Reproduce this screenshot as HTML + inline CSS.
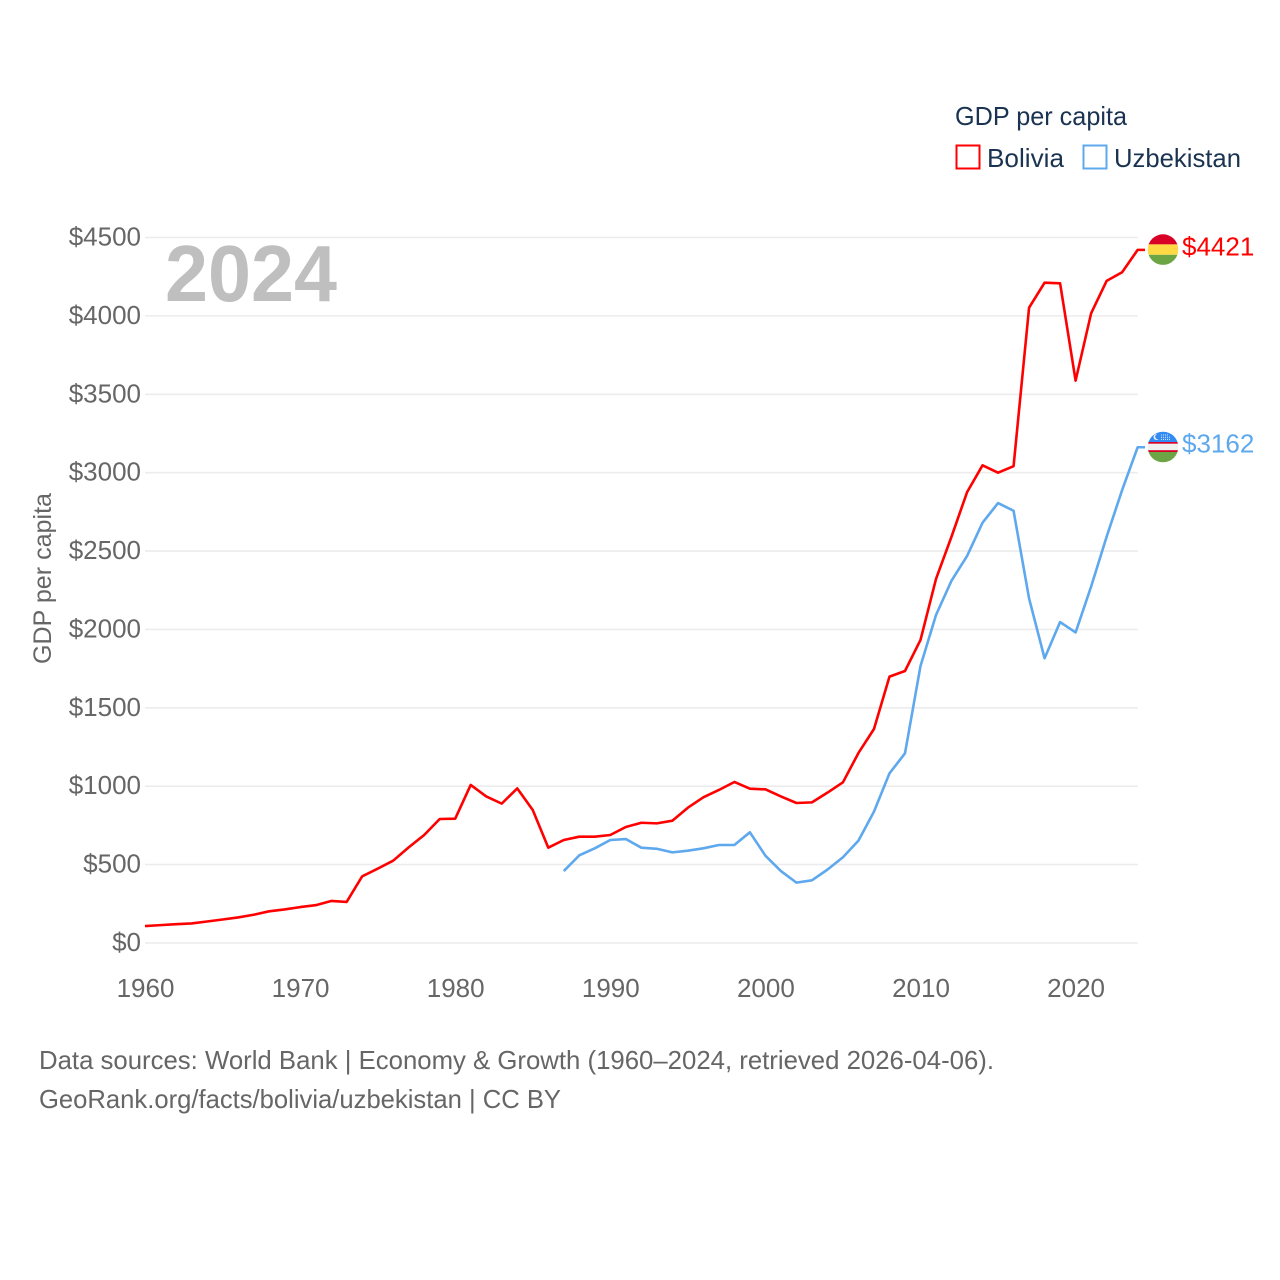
<!DOCTYPE html>
<html lang="en">
<head>
<meta charset="utf-8">
<title>GDP per capita: Bolivia vs Uzbekistan</title>
<style>
html,body{margin:0;padding:0;background:#fff;}
svg{display:block;}
text{font-family:"Liberation Sans",sans-serif;}
</style>
</head>
<body>
<svg id="chart" width="1280" height="1280" viewBox="0 0 1280 1280" xmlns="http://www.w3.org/2000/svg">
  <defs>
    <clipPath id="clip-bo"><circle cx="1163" cy="249.6" r="15.3"/></clipPath>
    <clipPath id="clip-uz"><circle cx="1163" cy="447" r="15.3"/></clipPath>
  </defs>
  <rect width="1280" height="1280" fill="#fff"/>
  <g id="grid"></g>
  <g id="yticks"></g>
  <g id="xticks"></g>
  <text x="165" y="301" font-size="80" font-weight="700" fill="#bfbfbf" textLength="172" lengthAdjust="spacingAndGlyphs">2024</text>
  <text transform="translate(51,664) rotate(-90)" font-size="25" fill="#666" textLength="171" lengthAdjust="spacingAndGlyphs">GDP per capita</text>
  <g id="series"></g>

  <g clip-path="url(#clip-bo)">
    <rect x="1147" y="234" width="32" height="10.4" fill="#d80027"/>
    <rect x="1147" y="244.4" width="32" height="10.4" fill="#ffda44"/>
    <rect x="1147" y="254.8" width="32" height="11" fill="#6da544"/>
  </g>
  <g clip-path="url(#clip-uz)">
    <rect x="1147" y="431" width="32" height="11" fill="#338af3"/>
    <rect x="1147" y="442" width="32" height="1.8" fill="#d80027"/>
    <rect x="1147" y="443.8" width="32" height="6.4" fill="#f0f0f0"/>
    <rect x="1147" y="450.2" width="32" height="1.8" fill="#d80027"/>
    <rect x="1147" y="452" width="32" height="11" fill="#6da544"/>
    <circle cx="1156.5" cy="437" r="3" fill="#f0f0f0"/>
    <circle cx="1157.8" cy="436.6" r="2.6" fill="#338af3"/>
    <path d="M1161 435h8M1161 437.2h9M1161 439.4h10" stroke="#dcebfb" stroke-width="1" stroke-dasharray="1 1" fill="none"/>
  </g>
  <text id="end-bo" x="1182" y="255.5" font-size="26" fill="#ff0000"></text>
  <text id="end-uz" x="1182" y="452.5" font-size="26" fill="#5ea8ee"></text>

  <g>
    <text x="955" y="125" font-size="26" fill="#1a3350" textLength="172" lengthAdjust="spacingAndGlyphs">GDP per capita</text>
    <rect x="956.5" y="145.5" width="23" height="23" fill="none" stroke="#ff0000" stroke-width="2"/>
    <text x="987" y="167" font-size="26" fill="#1a3350" textLength="77" lengthAdjust="spacingAndGlyphs">Bolivia</text>
    <rect x="1083.5" y="145.5" width="23" height="23" fill="none" stroke="#5ea8ee" stroke-width="2"/>
    <text x="1114" y="167" font-size="26" fill="#1a3350" textLength="127" lengthAdjust="spacingAndGlyphs">Uzbekistan</text>
  </g>

  <text x="39" y="1069" font-size="26" fill="#666" textLength="955" lengthAdjust="spacingAndGlyphs">Data sources: World Bank | Economy &amp; Growth (1960–2024, retrieved 2026-04-06).</text>
  <text x="39" y="1108" font-size="26" fill="#666" textLength="522" lengthAdjust="spacingAndGlyphs">GeoRank.org/facts/bolivia/uzbekistan | CC BY</text>
</svg>
<script>
const years = [1960,1961,1962,1963,1964,1965,1966,1967,1968,1969,1970,1971,1972,1973,1974,1975,1976,1977,1978,1979,1980,1981,1982,1983,1984,1985,1986,1987,1988,1989,1990,1991,1992,1993,1994,1995,1996,1997,1998,1999,2000,2001,2002,2003,2004,2005,2006,2007,2008,2009,2010,2011,2012,2013,2014,2015,2016,2017,2018,2019,2020,2021,2022,2023,2024];
const bolivia = [108,114,120,125,137,150,163,180,202,214,229,241,268,262,425,474,525,610,689,791,793,1008,935,889,986,848,608,657,678,678,689,740,767,763,780,863,929,976,1027,984,980,935,893,897,959,1025,1212,1365,1699,1735,1933,2322,2592,2875,3047,3000,3041,4052,4212,4208,3587,4016,4223,4278,4421];
const uzbekistan = [null,null,null,null,null,null,null,null,null,null,null,null,null,null,null,null,null,null,null,null,null,null,null,null,null,null,null,459,559,604,657,663,608,601,578,589,604,625,625,706,557,459,385,400,468,547,653,838,1082,1210,1767,2092,2311,2468,2681,2806,2757,2198,1816,2047,1981,2273,2591,2889,3162];
const yTickValues = [0,500,1000,1500,2000,2500,3000,3500,4000,4500];
const xTickValues = [1960,1970,1980,1990,2000,2010,2020];

const NS = 'http://www.w3.org/2000/svg';
function xScale(year){ return 145 + (year - 1960) * 15.51; }
function yScale(value){ return 943 - value * 0.15678; }
function make(tag, parent){
  const el = document.createElementNS(NS, tag);
  parent.appendChild(el);
  return el;
}

const grid = document.getElementById('grid');
const yticks = document.getElementById('yticks');
yTickValues.forEach(function(v){
  const line = make('line', grid);
  
  
  line.setAttribute('x1', 145);
  line.setAttribute('x2', 1138);
  line.setAttribute('y1', yScale(v));
  line.setAttribute('y2', yScale(v));
  line.setAttribute('stroke', '#ececec');
  line.setAttribute('stroke-width', '1.6');
  const label = make('text', yticks);
  
  
  label.setAttribute('x', 141);
  label.setAttribute('y', yScale(v) + 8);
  label.setAttribute('text-anchor', 'end');
  label.setAttribute('font-size', '26');
  label.setAttribute('fill', '#666');
  label.textContent = '$' + v;
});

const xticks = document.getElementById('xticks');
xTickValues.forEach(function(y){
  const label = make('text', xticks);
  
  
  label.setAttribute('x', xScale(y) + 0.5);
  label.setAttribute('y', 997);
  label.setAttribute('text-anchor', 'middle');
  label.setAttribute('font-size', '26');
  label.setAttribute('fill', '#666');
  label.textContent = y;
});

function linePath(values){
  let d = '';
  values.forEach(function(v, i){
    if (v === null) return;
    d += (d ? 'L' : 'M') + xScale(years[i]).toFixed(2) + ' ' + yScale(v).toFixed(2);
  });
  return d;
}
function lastValue(values){ return values[values.length - 1]; }

const seriesGroup = document.getElementById('series');

const boliviaLine = make('path', seriesGroup);


boliviaLine.setAttribute('d', linePath(bolivia) + 'L1145 ' + yScale(lastValue(bolivia)).toFixed(2));
boliviaLine.setAttribute('fill', 'none');
boliviaLine.setAttribute('stroke', '#ff0000');
boliviaLine.setAttribute('stroke-width', '2.6');
boliviaLine.setAttribute('stroke-linejoin', 'round');

const uzbekistanLine = make('path', seriesGroup);


uzbekistanLine.setAttribute('d', linePath(uzbekistan) + 'L1145 ' + yScale(lastValue(uzbekistan)).toFixed(2));
uzbekistanLine.setAttribute('fill', 'none');
uzbekistanLine.setAttribute('stroke', '#5ea8ee');
uzbekistanLine.setAttribute('stroke-width', '2.6');
uzbekistanLine.setAttribute('stroke-linejoin', 'round');

document.getElementById('end-bo').textContent = '$' + lastValue(bolivia);
document.getElementById('end-uz').textContent = '$' + lastValue(uzbekistan);
</script>
</body>
</html>
